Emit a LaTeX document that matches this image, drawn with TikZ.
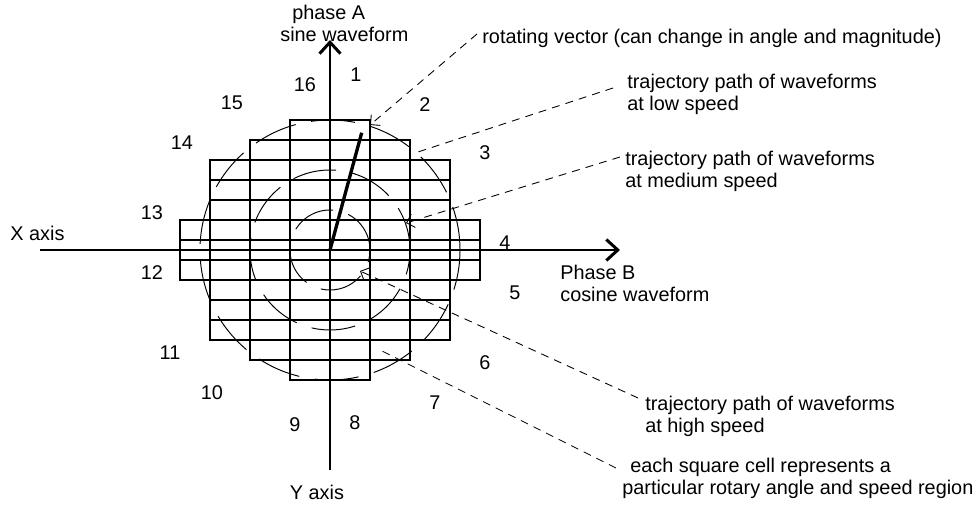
\documentclass[tikz,border=0pt]{standalone}
\usepackage{fontspec}
\setmainfont{Liberation Sans}
\usetikzlibrary{arrows.meta}

\begin{document}
\begin{tikzpicture}[
eixo/.style={line width=1.7pt, -{Straight Barb[length=2.3mm, width=4.2mm]}},
grade/.style={line width=1.1pt},
trajeto/.style={line width=0.55pt, dash pattern=on 25pt off 9pt},
guia/.style={line width=0.5pt, dash pattern=on 4.5pt off 3.5pt},
ponta/.style={-{Straight Barb[length=1.4mm, width=2.8mm]}},
rotulo/.style={align=left, inner sep=0pt, anchor=west, font=\fontsize{11.3}{12.5}\selectfont},
numero/.style={inner sep=0pt, font=\fontsize{11.3}{12.5}\selectfont}
]
\useasboundingbox (-6.6,-5.1) rectangle (12.9,5.0);

\foreach \w/\h in {3.0/0.6, 2.4/1.8, 1.6/2.2, 0.8/2.6}
  \draw[grade] (-\w,-\h) rectangle (\w,\h);
\foreach \w/\y in {3.0/0.2, 2.4/1.0, 2.4/1.4}
  \draw[grade] (-\w,\y) -- (\w,\y) (-\w,-\y) -- (\w,-\y);

\foreach \r in {2.6,1.6,0.8}
  \draw[trajeto] (0,0) circle (\r);

\coordinate (o) at (0,0);
\coordinate (xini) at (-5.8,0);
\coordinate (xfim) at (5.8,0);
\coordinate (yini) at (0,-4.4);
\coordinate (yfim) at (0,4.2);
\coordinate (vetor) at (0.634,2.346);
\draw[eixo] (xini) -- (xfim);
\draw[eixo] (yini) -- (yfim);
\draw[line width=1.9pt] (o) -- (vetor);

\node[numero] (xlbl) at (-5.85,0.34) {X axis};
\node[numero] (ylbl) at (-0.26,-4.84) {Y axis};
\node[rotulo] (fasea) at (-1.0,4.54) {\hspace*{0.24cm}phase A\\sine waveform};
\node[rotulo] (faseb) at (4.6,-0.66) {Phase B\\cosine waveform};

\foreach \n/\x/\y in {1/0.52/3.5, 2/1.9/2.9, 3/3.1/1.94, 4/3.5/0.14, 5/3.7/-0.86, 6/3.1/-2.26,
  7/2.1/-3.06, 8/0.5/-3.46, 9/-0.7/-3.5, 10/-2.36/-2.86, 11/-3.2/-2.06, 12/-3.56/-0.46,
  13/-3.56/0.74, 14/-2.96/2.14, 15/-1.96/2.94, 16/-0.5/3.3}
  \node[numero] (n\n) at (\x,\y) {\n};

\node[rotulo] (vetlbl) at (3.04,4.24) {rotating vector (can change in angle and magnitude)};
\node[rotulo] (baixa) at (5.94,3.12) {trajectory path of waveforms\\at low speed};
\node[rotulo] (media) at (5.9,1.58) {trajectory path of waveforms\\at medium speed};
\node[rotulo] (alta) at (6.3,-3.33) {trajectory path of waveforms\\at high speed};
\node[rotulo] (celula) at (5.84,-4.56) {\hspace*{0.16cm}each square cell represents a\\particular rotary angle and speed region};

\coordinate (alvovet) at (0.8,2.5);
\coordinate (alvobaixa) at (1.76,1.96);
\coordinate (alvomedia) at (1.52,0.54);
\coordinate (alvoalta) at (0.6,-0.42);
\coordinate (alvocel) at (1.0,-2.0);

\draw[guia,ponta] ([shift={(-0.1,0.08)}]vetlbl.west) -- (alvovet);
\draw[guia] ([shift={(-0.28,0.12)}]baixa.west) -- (alvobaixa);
\draw[guia,ponta] ([shift={(-0.1,0.28)}]media.west) -- (alvomedia);
\draw[guia,ponta] ([shift={(-0.14,0.37)}]alta.west) -- (alvoalta);
\draw[guia] ([shift={(-0.12,0.2)}]celula.west) -- (alvocel);
\end{tikzpicture}
\end{document}
